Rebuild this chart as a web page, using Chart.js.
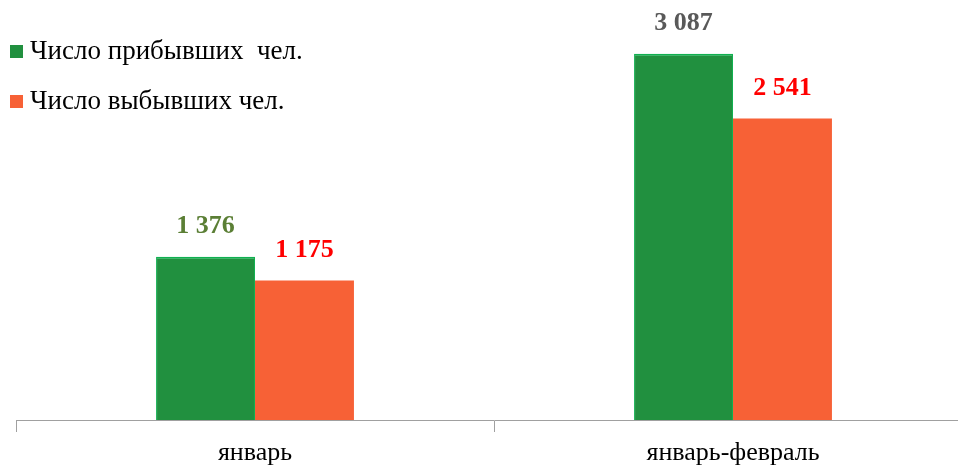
<!DOCTYPE html>
<html>
<head>
<meta charset="utf-8">
<script src="https://cdn.jsdelivr.net/npm/chart.js@4.4.1/dist/chart.umd.min.js"></script>
<style>
  html, body { margin: 0; padding: 0; background: #fff; overflow: hidden; }
  #wrap { position: relative; width: 990px; height: 467px; }
</style>
</head>
<body>
<div id="wrap"><canvas id="chart"></canvas></div>
<script>
    "use strict";

    // Data
    const categories = ["январь", "январь-февраль"];
    const arrivedLabel = "Число прибывших  чел.";
    const leftLabel = "Число выбывших чел.";
    const arrived = [1376, 3087];
    const left = [1175, 2541];

    const SERIF = "'Liberation Serif', 'DejaVu Serif', serif";
    const GREEN = "#21903f";
    const ORANGE = "#f76136";

    // value label colours per series/point
    const labelColors = [
        ["#5b7f35", "#595959"],
        ["#ff0000", "#ff0000"],
    ];

    /**
     * Format number with a space as thousands separator
     */
    function fmt(v) {
        return String(v).replace(/\B(?=(\d{3})+(?!\d))/g, " ");
    }

    /**
     * Value labels above each bar
     */
    const valueLabels = {
        id: "valueLabels",
        afterDatasetsDraw: function (chart) {
            const ctx = chart.ctx;
            ctx.save();
            ctx.font = "bold 26px " + SERIF;
            ctx.textAlign = "center";
            ctx.textBaseline = "middle";
            chart.data.datasets.forEach(function (ds, i) {
                const meta = chart.getDatasetMeta(i);
                meta.data.forEach(function (bar, j) {
                    ctx.fillStyle = labelColors[i][j];
                    ctx.fillText(fmt(ds.data[j]), bar.x, bar.y - 30);
                });
            });
            ctx.restore();
        },
    };

    /**
     * Legend in the upper left corner
     */
    const cornerLegend = {
        id: "cornerLegend",
        afterDraw: function (chart) {
            const ctx = chart.ctx;
            ctx.save();
            ctx.font = "27px " + SERIF;
            ctx.textBaseline = "middle";
            ctx.textAlign = "left";
            chart.data.datasets.forEach(function (ds, i) {
                const y = 52 + i * 50;
                ctx.fillStyle = ds.backgroundColor;
                ctx.fillRect(10, y - 7, 13, 13);
                ctx.fillStyle = "#000";
                ctx.fillText(ds.label, 30, y);
            });
            ctx.restore();
        },
    };

    new Chart(document.getElementById("chart"), {
        type: "bar",
        data: {
            labels: categories,
            datasets: [
                {
                    label: arrivedLabel,
                    data: arrived,
                    backgroundColor: GREEN,
                    borderColor: "#10b050",
                    borderWidth: { top: 2, left: 1, right: 1, bottom: 0 },
                    categoryPercentage: 0.414,
                    barPercentage: 1.0,
                },
                {
                    label: leftLabel,
                    data: left,
                    backgroundColor: ORANGE,
                    borderWidth: 0,
                    categoryPercentage: 0.414,
                    barPercentage: 1.0,
                },
            ],
        },
        options: {
            animation: false,
            responsive: true,
            maintainAspectRatio: false,
            layout: { padding: { left: 16, right: 18, top: 0, bottom: 0 } },
            plugins: {
                legend: { display: false },
                tooltip: { enabled: false },
                title: { display: false },
            },
            scales: {
                x: {
                    offset: true,
                    afterFit: function (scale) {
                        scale.height = 47;
                    },
                    grid: {
                        offset: true,
                        drawOnChartArea: false,
                        drawTicks: true,
                        tickLength: 12,
                        color: "#a0a0a0",
                    },
                    border: { display: true, color: "#a0a0a0", width: 1 },
                    ticks: {
                        color: "#000",
                        padding: 6,
                        font: { family: SERIF, size: 26 },
                    },
                },
                y: {
                    display: false,
                    min: 0,
                    max: 3540,
                },
            },
        },
        plugins: [valueLabels, cornerLegend],
    });
</script>
</body>
</html>
